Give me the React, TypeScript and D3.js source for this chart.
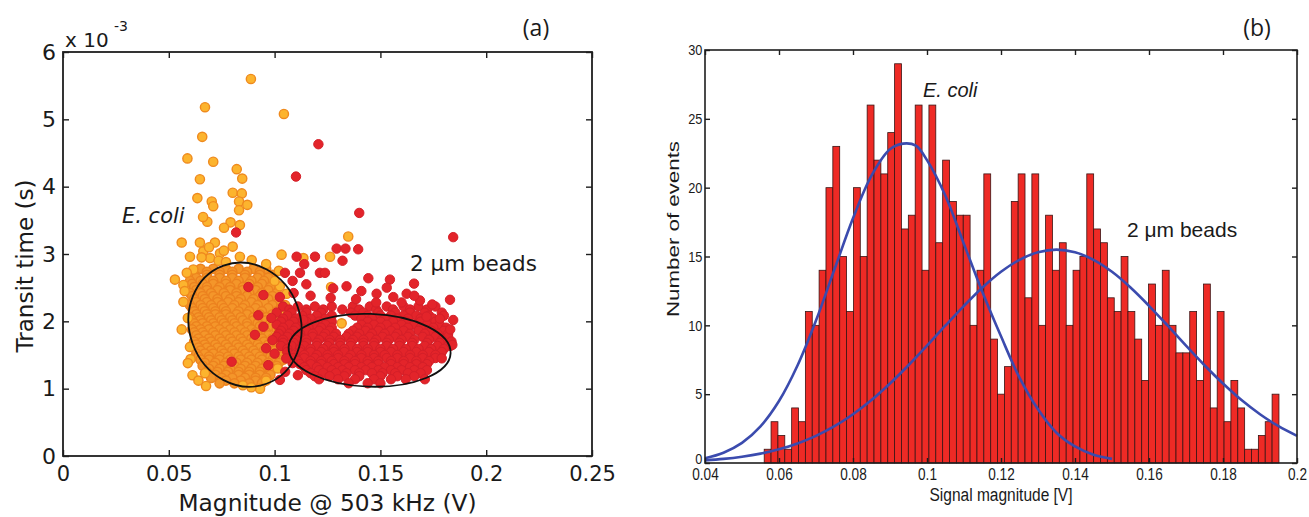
import { useEffect, useRef } from 'react'
import * as d3 from 'd3'

const W = 1309, H = 517

// ---- (a) scatter: magnitude @ 503 kHz (V) vs transit time (x1e-3 s)
// E. coli, sparse points
const ecoliOutliers: [number, number][] = [
  [0.0888,5.60],[0.0671,5.18],[0.1044,5.08],[0.0658,4.74],[0.0588,4.42],[0.0710,4.37],[0.0647,4.11],
  [0.0821,4.26],[0.0847,4.12],[0.0635,3.83],[0.0802,3.91],[0.0845,3.90],[0.0703,3.78],[0.0710,3.71],
  [0.0832,3.78],[0.0871,3.73],[0.0832,3.65],[0.0682,3.48],[0.0792,3.47],[0.0836,3.43],[0.0761,3.39],
  [0.0561,3.17],[0.0647,3.17],[0.0718,3.17],[0.0802,3.11],[0.1348,3.26],[0.0600,2.96],[0.0663,3.04],
  [0.0695,2.94],[0.0742,3.01],[0.0836,2.96],[0.0892,2.91],[0.1033,2.99],[0.1136,2.94],[0.1262,2.96],
  [0.0529,2.62],[0.0569,2.54],[0.0616,2.77],[0.0569,2.29],[0.0561,1.88],[0.0590,2.05],[0.0603,1.44],
  [0.0590,1.38],[0.0671,1.23],[0.0676,1.04],[0.0931,1.00],[0.1317,1.97],[0.1025,2.52],[0.1057,2.41],
  [0.1267,2.51],[0.0662,3.55],[0.0690,3.10],[0.0655,2.95],[0.0735,2.90],[0.0760,3.05],[0.0770,2.88],
  [0.0585,2.72],[0.0575,2.45],[0.0600,1.62],[0.0612,1.20],[0.0640,1.12],[0.0850,1.05],[0.0890,1.02],
  [0.0960,1.12],[0.1015,1.30],[0.1060,1.55],[0.1080,1.85],[0.1050,2.10],[0.1020,2.75],[0.0960,2.85],
  [0.1000,2.60],
]
// E. coli, dense cloud: [transit time, magnitudes]
const ecoliCoreRows: [number, number[]][] = [
  [2.78, [0.065,0.071,0.077,0.083,0.090,0.096]],
  [2.735, [0.068,0.074,0.080,0.087,0.093]],
  [2.69, [0.062,0.068,0.074,0.080,0.086,0.093,0.099]],
  [2.645, [0.063,0.068,0.074,0.080,0.086,0.092,0.097]],
  [2.60, [0.060,0.065,0.071,0.077,0.083,0.089,0.095]],
  [2.555, [0.061,0.066,0.071,0.077,0.082,0.088,0.094,0.100]],
  [2.51, [0.062,0.068,0.074,0.079,0.085,0.092,0.098]],
  [2.465, [0.063,0.068,0.073,0.079,0.085,0.091,0.097]],
  [2.42, [0.060,0.065,0.070,0.076,0.082,0.088,0.094,0.101]],
  [2.375, [0.061,0.066,0.071,0.077,0.082,0.087,0.093,0.099]],
  [2.33, [0.062,0.067,0.073,0.079,0.084,0.090,0.097]],
  [2.285, [0.063,0.068,0.073,0.078,0.083,0.089,0.095,0.102]],
  [2.24, [0.060,0.065,0.070,0.075,0.081,0.086,0.092,0.099,0.105]],
  [2.195, [0.061,0.066,0.071,0.076,0.080,0.085,0.091,0.097,0.103]],
  [2.15, [0.062,0.067,0.072,0.077,0.083,0.088,0.094,0.101]],
  [2.105, [0.063,0.068,0.072,0.077,0.082,0.087,0.093,0.099]],
  [2.06, [0.060,0.064,0.069,0.074,0.079,0.084,0.090,0.096,0.103]],
  [2.015, [0.061,0.065,0.070,0.075,0.080,0.085,0.090,0.096,0.102]],
  [1.97, [0.062,0.066,0.071,0.076,0.081,0.087,0.092,0.098,0.105]],
  [1.925, [0.063,0.068,0.072,0.077,0.082,0.087,0.093,0.099]],
  [1.88, [0.061,0.065,0.069,0.074,0.079,0.084,0.089,0.095,0.101]],
  [1.835, [0.062,0.066,0.071,0.076,0.081,0.086,0.091,0.096,0.102]],
  [1.79, [0.063,0.067,0.072,0.077,0.082,0.087,0.092,0.097,0.104]],
  [1.745, [0.064,0.069,0.074,0.079,0.084,0.089,0.094,0.099]],
  [1.70, [0.062,0.066,0.070,0.075,0.080,0.085,0.090,0.095,0.100]],
  [1.655, [0.063,0.067,0.072,0.077,0.082,0.087,0.092,0.097,0.102]],
  [1.61, [0.064,0.068,0.073,0.078,0.083,0.088,0.093,0.098,0.103]],
  [1.565, [0.065,0.070,0.075,0.080,0.085,0.090,0.095,0.100]],
  [1.52, [0.063,0.067,0.071,0.076,0.081,0.086,0.091,0.096,0.101]],
  [1.475, [0.064,0.069,0.074,0.078,0.083,0.088,0.093,0.098,0.103]],
  [1.43, [0.065,0.069,0.074,0.079,0.084,0.089,0.094,0.099,0.104]],
  [1.385, [0.067,0.072,0.077,0.082,0.087,0.092,0.097,0.102]],
  [1.34, [0.066,0.071,0.076,0.081,0.086,0.091,0.096,0.101]],
  [1.295, [0.069,0.074,0.079,0.084,0.089,0.094,0.099]],
  [1.25, [0.068,0.073,0.078,0.083,0.088,0.093,0.098]],
  [1.205, [0.072,0.077,0.083,0.088,0.093,0.098]],
  [1.16, [0.070,0.075,0.080,0.086,0.091,0.096]],
  [1.12, [0.077,0.084,0.091]],
  [1.08, [0.074,0.081,0.088,0.094]],
]
// 2 um beads, sparse points
const beadsOutliers: [number, number][] = [
  [0.1207,4.63],[0.1101,4.15],[0.1400,3.61],[0.1844,3.25],[0.0818,3.32],[0.1293,3.08],[0.1335,3.08],
  [0.1395,3.07],[0.1104,2.96],[0.1191,2.96],[0.1321,2.90],[0.1214,2.72],[0.1238,2.72],[0.1049,2.72],
  [0.1120,2.72],[0.1443,2.64],[0.1545,2.62],[0.1659,2.56],[0.1829,2.32],[0.1340,2.52],[0.1277,2.49],
  [0.1482,2.41],[0.1561,2.36],[0.1624,2.41],[0.1687,2.31],[0.0876,2.51],[0.0947,2.39],[0.1025,2.36],
  [0.0923,2.09],[0.0947,1.92],[0.0907,1.80],[0.0797,1.40],[0.0970,1.35],[0.1025,1.13],[0.1136,2.02],
  [0.1718,2.07],[0.1781,2.04],[0.1844,2.02],[0.1836,1.70],[0.1150,2.55],[0.1170,2.38],[0.1265,2.35],
  [0.1385,2.33],[0.1530,2.50],[0.1600,2.28],[0.1660,2.38],[0.1745,2.25],[0.1480,2.28],[0.1090,2.42],
  [0.1410,2.45],[0.1140,2.85],[0.1085,2.60],[0.1830,1.88],[0.1790,1.45],[0.1050,1.25],[0.1085,1.38],
  [0.1110,1.20],[0.1000,1.52],[0.0990,1.72],[0.0985,2.05],[0.0960,1.60],[0.1055,1.45],[0.1840,1.65],
]
// 2 um beads, dense cloud
const beadsCoreRows: [number, number[]][] = [
  [2.22, [0.104,0.111,0.119,0.127,0.137,0.145,0.153,0.161,0.168,0.176]],
  [2.175, [0.107,0.115,0.123,0.132,0.140,0.148,0.156,0.164,0.172]],
  [2.13, [0.101,0.108,0.115,0.122,0.136,0.142,0.149,0.157,0.164,0.171,0.179]],
  [2.085, [0.106,0.113,0.120,0.127,0.138,0.144,0.150,0.155,0.161,0.167,0.173,0.180]],
  [2.04, [0.104,0.110,0.117,0.124,0.141,0.146,0.152,0.158,0.163,0.169,0.175]],
  [1.995, [0.103,0.109,0.115,0.121,0.127,0.144,0.150,0.156,0.162,0.169,0.176]],
  [1.95, [0.101,0.107,0.113,0.119,0.124,0.141,0.147,0.153,0.160,0.166,0.172,0.178]],
  [1.905, [0.104,0.110,0.116,0.122,0.127,0.139,0.144,0.150,0.157,0.163,0.169,0.175,0.181]],
  [1.86, [0.103,0.109,0.115,0.121,0.126,0.137,0.143,0.149,0.155,0.161,0.168,0.174,0.180]],
  [1.815, [0.102,0.107,0.112,0.118,0.124,0.129,0.135,0.140,0.146,0.152,0.158,0.164,0.171,0.177,0.182]],
  [1.77, [0.101,0.106,0.112,0.118,0.123,0.128,0.134,0.139,0.145,0.151,0.157,0.163,0.170,0.176,0.182]],
  [1.725, [0.104,0.110,0.115,0.121,0.126,0.131,0.137,0.142,0.148,0.154,0.160,0.166,0.173,0.179]],
  [1.68, [0.104,0.109,0.115,0.120,0.126,0.131,0.136,0.142,0.147,0.153,0.159,0.165,0.172,0.178,0.183]],
  [1.635, [0.103,0.108,0.114,0.120,0.125,0.131,0.136,0.142,0.147,0.153,0.159,0.165,0.171,0.177,0.183]],
  [1.59, [0.106,0.112,0.117,0.123,0.128,0.133,0.139,0.144,0.150,0.156,0.162,0.168,0.174,0.180]],
  [1.545, [0.106,0.112,0.117,0.122,0.128,0.133,0.139,0.144,0.150,0.155,0.161,0.167,0.173,0.179]],
  [1.50, [0.109,0.114,0.120,0.125,0.130,0.136,0.141,0.147,0.152,0.158,0.164,0.170,0.176]],
  [1.455, [0.109,0.114,0.119,0.125,0.130,0.135,0.141,0.147,0.153,0.158,0.164,0.170,0.176]],
  [1.41, [0.111,0.117,0.122,0.127,0.133,0.138,0.144,0.149,0.155,0.161,0.167,0.173]],
  [1.365, [0.112,0.117,0.122,0.128,0.133,0.138,0.144,0.149,0.155,0.161,0.167,0.172]],
  [1.32, [0.114,0.120,0.125,0.130,0.135,0.141,0.146,0.152,0.158,0.164,0.170]],
  [1.275, [0.115,0.121,0.127,0.132,0.138,0.143,0.149,0.155,0.160,0.166,0.172]],
  [1.23, [0.117,0.123,0.129,0.134,0.140,0.146,0.151,0.157,0.163,0.169]],
  [1.185, [0.119,0.126,0.133,0.140,0.150,0.158,0.166]],
  [1.14, [0.121,0.130,0.138,0.147,0.155,0.162,0.171]],
  [1.08, [0.135,0.144,0.150]],
]
const scatterXTicks = [0, 0.05, 0.1, 0.15, 0.2, 0.25]
const scatterYTicks = [0, 1, 2, 3, 4, 5, 6]

// ---- (b) histogram of signal magnitude (V)
const binStart = 0.056
const binWidth = 0.001855
const binCounts = [
  1,3,2,1,4,3,11,10,14,20,23,15,11,20,15,26,22,21,24,29,
  17,18,26,14,26,16,22,19,18,18,10,14,21,9,5,7,19,21,12,21,
  10,18,14,16,10,14,15,21,17,16,12,11,15,11,9,6,13,10,14,10,
  8,8,11,6,13,4,11,3,6,4,1,1,2,3,5,
]
const histXTicks = [0.04, 0.06, 0.08, 0.1, 0.12, 0.14, 0.16, 0.18, 0.2]
const histYTicks = [0, 5, 10, 15, 20, 25, 30]

// fitted curves
const ecoliFitX = [0.04,0.045,0.05,0.055,0.06,0.065,0.07,0.075,0.08,0.085,0.09,0.0935,0.097,0.1,0.105,0.11,0.115,0.12,0.125,0.13,0.135,0.14,0.145,0.15]
const ecoliFitY = [0.35,0.75,1.46,2.66,4.5,7.08,10.35,14.07,17.78,20.88,22.79,23.2,23.05,22.0,19.4,15.9,12.4,9.2,6.2,3.9,2.2,1.2,0.6,0.3]
const beadsFitX = [0.04,0.045,0.05,0.055,0.06,0.065,0.07,0.075,0.08,0.085,0.09,0.095,0.1,0.105,0.11,0.115,0.12,
  0.125,0.13,0.135,0.14,0.145,0.15,0.155,0.16,0.165,0.17,0.175,0.18,0.185,0.19,0.195,0.2]
const beadsFitY = [0.19,0.30,0.46,0.68,0.99,1.42,1.97,2.67,3.54,4.57,5.77,7.10,8.52,9.99,11.42,12.75,13.89,
  14.76,15.31,15.5,15.31,14.76,13.89,12.75,11.42,9.99,8.52,7.10,5.77,4.57,3.54,2.67,1.97]

const FRAME = '#1e1e1e'

type Sel = d3.Selection<any, any, any, any>

const styleAxis = (ax: Sel, font: string, size: number, sx = 1) => {
  ax.select('.domain').remove()
  ax.selectAll('.tick line').attr('stroke', FRAME).attr('stroke-width', 1.4)
  ax.attr('font-family', null).attr('font-size', null)
  ax.selectAll('.tick text')
    .attr('fill', '#1a1a1a')
    .style('font-family', font)
    .style('font-size', size + 'px')
    .attr('transform', sx !== 1 ? `scale(${sx},1)` : null)
}

const drawScatter = (svg: Sel) => {
  const box = { left: 63, right: 592, top: 52, bottom: 456 }
  const x = d3.scaleLinear().domain([0, 0.25]).range([box.left, box.right])
  const y = d3.scaleLinear().domain([0, 6]).range([box.bottom, box.top])
  const g = svg.append('g')
  const font = 'DejaVu Sans'

  const ecoliCore = ecoliCoreRows.flatMap(([t, ms]) => ms.map(m => [m, t] as [number, number]))
  const beads = beadsCoreRows.flatMap(([t, ms]) => ms.map(m => [m, t] as [number, number])).concat(beadsOutliers)

  // dense E. coli cloud reads as deeper orange (overlapping marker edges)
  g.append('g').selectAll('circle').data(ecoliCore).join('circle')
    .attr('cx', d => x(d[0])).attr('cy', d => y(d[1])).attr('r', 4.6)
    .attr('fill', '#F4962A').attr('stroke', '#EC821F').attr('stroke-width', 1.5)
  g.append('g').selectAll('circle').data(ecoliOutliers).join('circle')
    .attr('cx', d => x(d[0])).attr('cy', d => y(d[1])).attr('r', 4.6)
    .attr('fill', '#FCB42E').attr('stroke', '#EF8A1E').attr('stroke-width', 1.4)
  g.append('g').selectAll('circle').data(beads).join('circle')
    .attr('cx', d => x(d[0])).attr('cy', d => y(d[1])).attr('r', 4.7)
    .attr('fill', '#E3242A').attr('stroke', '#D41F28').attr('stroke-width', 1)

  // cluster outlines
  const ellipse = (cx: number, cy: number, rx: number, ry: number, angle: number) => {
    const px = x(cx), py = y(cy)
    g.append('ellipse')
      .attr('cx', px).attr('cy', py)
      .attr('rx', x(cx + rx) - px).attr('ry', py - y(cy + ry))
      .attr('transform', `rotate(${angle},${px},${py})`)
      .attr('fill', 'none').attr('stroke', '#111').attr('stroke-width', 1.8)
  }
  ellipse(0.0860, 1.95, 0.0263, 0.933, -20)
  ellipse(0.1449, 1.57, 0.0383, 0.54, 2)

  // frame and ticks (inward, all four sides)
  g.append('rect').attr('x', box.left).attr('y', box.top)
    .attr('width', box.right - box.left).attr('height', box.bottom - box.top)
    .attr('fill', 'none').attr('stroke', FRAME).attr('stroke-width', 1.8)
  const fmt = (d: any) => String(d)
  const bx = g.append('g').attr('transform', `translate(0,${box.bottom})`)
    .call(d3.axisBottom(x).tickValues(scatterXTicks).tickSizeInner(-6).tickSizeOuter(0).tickPadding(10).tickFormat(fmt))
  styleAxis(bx, font, 21)
  const tx = g.append('g').attr('transform', `translate(0,${box.top})`)
    .call(d3.axisTop(x).tickValues(scatterXTicks).tickSizeInner(-6).tickSizeOuter(0).tickFormat(() => ''))
  styleAxis(tx, font, 21)
  const ly = g.append('g').attr('transform', `translate(${box.left},0)`)
    .call(d3.axisLeft(y).tickValues(scatterYTicks).tickSizeInner(-6).tickSizeOuter(0).tickPadding(7).tickFormat(fmt))
  styleAxis(ly, font, 22)
  const ry = g.append('g').attr('transform', `translate(${box.right},0)`)
    .call(d3.axisRight(y).tickValues(scatterYTicks).tickSizeInner(-6).tickSizeOuter(0).tickFormat(() => ''))
  styleAxis(ry, font, 21)

  const txt = (s: string, px: number, py: number, size: number, extra: Record<string, any> = {}) => {
    const t = g.append('text').attr('x', px).attr('y', py).text(s)
      .style('font-family', font).style('font-size', size + 'px').attr('fill', '#1a1a1a')
    Object.entries(extra).forEach(([k, v]) => t.attr(k, v))
    return t
  }
  txt('x 10', 65, 47, 20)
  txt('-3', 114, 31, 14)
  txt('Magnitude @ 503 kHz (V)', (box.left + box.right) / 2, 511, 23, { 'text-anchor': 'middle', textLength: 298, lengthAdjust: 'spacingAndGlyphs' })
  txt('Transit time (s)', 0, 0, 23, { 'text-anchor': 'middle', transform: 'translate(33,266) rotate(-90)', textLength: 173, lengthAdjust: 'spacingAndGlyphs' })
  txt('E. coli', 122, 223, 21).style('font-style', 'italic')
  txt('2 μm beads', 410, 271, 21.5)
  g.append('text').attr('x', 536).attr('y', 36).attr('text-anchor', 'middle').text('(a)')
    .style('font-family', 'Open Sans').style('font-size', '23px').attr('fill', '#1a1a1a')
}

const drawHistogram = (svg: Sel) => {
  const box = { left: 705, right: 1297, top: 50, bottom: 463 }
  const x = d3.scaleLinear().domain([0.04, 0.2]).range([box.left, box.right])
  const y = d3.scaleLinear().domain([0, 30]).range([box.bottom, box.top])
  const g = svg.append('g')
  const font = 'Liberation Sans'

  g.append('g').selectAll('rect').data(binCounts).join('rect')
    .attr('x', (_, i) => x(binStart + i * binWidth))
    .attr('width', (_, i) => x(binStart + (i + 1) * binWidth) - x(binStart + i * binWidth))
    .attr('y', d => y(d)).attr('height', d => y(0) - y(d))
    .attr('fill', '#EE2A25').attr('stroke', '#3a1414').attr('stroke-width', 0.8)

  const line = d3.line<number>().curve(d3.curveCatmullRom.alpha(0.5))
  g.append('path').datum(ecoliFitX)
    .attr('d', line.x(d => x(d)).y((_, i) => y(ecoliFitY[i])))
    .attr('fill', 'none').attr('stroke', '#3B4BAE').attr('stroke-width', 2.6)
  g.append('path').datum(beadsFitX)
    .attr('d', line.x(d => x(d)).y((_, i) => y(beadsFitY[i])))
    .attr('fill', 'none').attr('stroke', '#3B4BAE').attr('stroke-width', 2.6)

  g.append('rect').attr('x', box.left).attr('y', box.top)
    .attr('width', box.right - box.left).attr('height', box.bottom - box.top)
    .attr('fill', 'none').attr('stroke', FRAME).attr('stroke-width', 1.6)
  const fmt = (d: any) => String(d)
  const bx = g.append('g').attr('transform', `translate(0,${box.bottom})`)
    .call(d3.axisBottom(x).tickValues(histXTicks).tickSizeInner(-5).tickSizeOuter(0).tickPadding(6).tickFormat(fmt))
  styleAxis(bx, font, 16, 0.85)
  const tx = g.append('g').attr('transform', `translate(0,${box.top})`)
    .call(d3.axisTop(x).tickValues(histXTicks).tickSizeInner(-5).tickSizeOuter(0).tickFormat(() => ''))
  styleAxis(tx, font, 15)
  const ly = g.append('g').attr('transform', `translate(${box.left},0)`)
    .call(d3.axisLeft(y).tickValues(histYTicks).tickSizeInner(-5).tickSizeOuter(0).tickPadding(3).tickFormat(fmt))
  styleAxis(ly, font, 15, 0.85)
  ly.selectAll('.tick text').filter((d: any) => d === 0).attr('dy', '0.05em')
  const ry = g.append('g').attr('transform', `translate(${box.right},0)`)
    .call(d3.axisRight(y).tickValues(histYTicks).tickSizeInner(-5).tickSizeOuter(0).tickFormat(() => ''))
  styleAxis(ry, font, 15)

  const txt = (s: string, px: number, py: number, size: number, extra: Record<string, any> = {}) => {
    const t = g.append('text').attr('x', px).attr('y', py).text(s)
      .style('font-family', font).style('font-size', size + 'px').attr('fill', '#1a1a1a')
    Object.entries(extra).forEach(([k, v]) => t.attr(k, v))
    return t
  }
  txt('Signal magnitude [V]', (box.left + box.right) / 2, 501, 18, { 'text-anchor': 'middle', textLength: 143, lengthAdjust: 'spacingAndGlyphs' })
  txt('Number of events', 0, 0, 17, { 'text-anchor': 'middle', transform: 'translate(679,229) rotate(-90)', textLength: 176, lengthAdjust: 'spacingAndGlyphs' })
  txt('E. coli', 923, 97, 20).style('font-style', 'italic')
  txt('2 μm beads', 1127, 237, 21)
  g.append('text').attr('x', 1257).attr('y', 36).attr('text-anchor', 'middle').text('(b)')
    .style('font-family', 'Open Sans').style('font-size', '23px').attr('fill', '#1a1a1a')
}

export default function App() {
  const ref = useRef<SVGSVGElement>(null)
  useEffect(() => {
    const svg = d3.select(ref.current)
    svg.selectAll('*').remove()
    drawScatter(svg)
    drawHistogram(svg)
  }, [])
  return (
    <svg ref={ref} width={W} height={H}
      style={{ position: 'absolute', left: 0, top: 0, background: '#fff' }} />
  )
}
